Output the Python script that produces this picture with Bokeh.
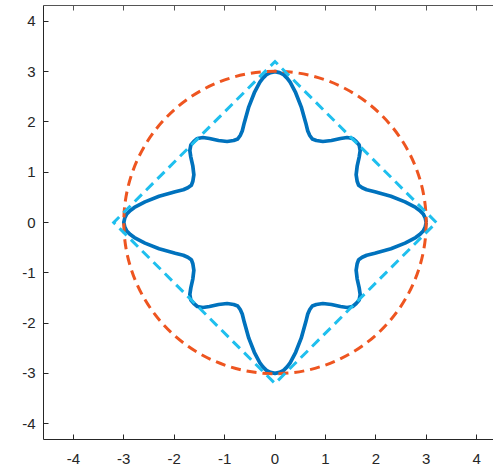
from bokeh.plotting import figure
from bokeh.models import FixedTicker, LinearAxis, Range1d, CustomLabelingPolicy
from bokeh.embed import file_html
from bokeh.resources import INLINE

tick_values = [-4, -3, -2, -1, 0, 1, 2, 3, 4]
tick_labels = ["-4", "-3", "-2", "-1", "0", "1", "2", "3", "4"]

circle_radius = 3.0

diamond_x = [3.2, 0.0, -3.2, 0.0, 3.2]
diamond_y = [0.0, 3.2, 0.0, -3.2, 0.0]

star_x = [
    3.00, 2.98, 2.94, 2.87, 2.79, 2.58, 2.30, 1.98, 1.82, 1.73, 1.66, 1.63, 1.61, 1.63, 1.67, 1.69, 1.67, 1.61,
    1.54, 1.43, 1.30, 1.12, 0.95, 0.82, 0.74, 0.69, 0.65, 0.61, 0.52, 0.41, 0.30, 0.24, 0.17, 0.09, 0.00,
    -0.09, -0.17, -0.24, -0.30, -0.41, -0.52, -0.61, -0.65, -0.69, -0.74, -0.82, -0.95, -1.12, -1.30, -1.43, -1.54,
    -1.61, -1.67, -1.69, -1.67, -1.63, -1.61, -1.63, -1.66, -1.73, -1.82, -1.98, -2.30, -2.58, -2.79, -2.87, -2.94, -2.98, -3.00,
    -2.98, -2.94, -2.87, -2.79, -2.58, -2.30, -1.98, -1.82, -1.73, -1.66, -1.63, -1.61, -1.63, -1.67, -1.69, -1.67, -1.61,
    -1.54, -1.43, -1.30, -1.12, -0.95, -0.82, -0.74, -0.69, -0.65, -0.61, -0.52, -0.41, -0.30, -0.24, -0.17, -0.09, 0.00,
    0.09, 0.17, 0.24, 0.30, 0.41, 0.52, 0.61, 0.65, 0.69, 0.74, 0.82, 0.95, 1.12, 1.30, 1.43, 1.54,
    1.61, 1.67, 1.69, 1.67, 1.63, 1.61, 1.63, 1.66, 1.73, 1.82, 1.98, 2.30, 2.58, 2.79, 2.87, 2.94, 2.98, 3.00,
]
star_y = [
    0.00, 0.09, 0.17, 0.24, 0.30, 0.41, 0.52, 0.61, 0.65, 0.69, 0.74, 0.82, 0.95, 1.12, 1.30, 1.43, 1.54, 1.61,
    1.67, 1.69, 1.67, 1.63, 1.61, 1.63, 1.66, 1.73, 1.82, 1.98, 2.30, 2.58, 2.79, 2.87, 2.94, 2.98, 3.00,
    2.98, 2.94, 2.87, 2.79, 2.58, 2.30, 1.98, 1.82, 1.73, 1.66, 1.63, 1.61, 1.63, 1.67, 1.69, 1.67,
    1.61, 1.54, 1.43, 1.30, 1.12, 0.95, 0.82, 0.74, 0.69, 0.65, 0.61, 0.52, 0.41, 0.30, 0.24, 0.17, 0.09, 0.00,
    -0.09, -0.17, -0.24, -0.30, -0.41, -0.52, -0.61, -0.65, -0.69, -0.74, -0.82, -0.95, -1.12, -1.30, -1.43, -1.54, -1.61,
    -1.67, -1.69, -1.67, -1.63, -1.61, -1.63, -1.66, -1.73, -1.82, -1.98, -2.30, -2.58, -2.79, -2.87, -2.94, -2.98, -3.00,
    -2.98, -2.94, -2.87, -2.79, -2.58, -2.30, -1.98, -1.82, -1.73, -1.66, -1.63, -1.61, -1.63, -1.67, -1.69, -1.67,
    -1.61, -1.54, -1.43, -1.30, -1.12, -0.95, -0.82, -0.74, -0.69, -0.65, -0.61, -0.52, -0.41, -0.30, -0.24, -0.17, -0.09, 0.00,
]

AX = "#262626"
FONT = "Liberation Sans"

p = figure(
    width=493, height=471,
    x_range=Range1d(-4.593, 4.335), y_range=Range1d(-4.314, 4.314),
    output_backend="svg", toolbar_location=None,
    x_axis_location=None, y_axis_location=None,
    min_border_left=43, min_border_right=0, min_border_top=5, min_border_bottom=32,
    background_fill_color="white", border_fill_color="white",
    outline_line_color=None,
)
p.xgrid.visible = False
p.ygrid.visible = False

overrides = {v: s for v, s in zip(tick_values, tick_labels)}

def style_axis(ax, labels=True):
    ax.ticker = FixedTicker(ticks=tick_values)
    ax.axis_line_color = AX
    ax.axis_line_width = 1
    ax.major_tick_line_color = AX
    ax.major_tick_in = 5
    ax.major_tick_out = 0
    ax.minor_tick_line_color = None
    if labels:
        ax.major_label_overrides = overrides
        ax.major_label_text_font = FONT
        ax.major_label_text_font_size = "15px"
        ax.major_label_text_color = AX
    else:
        ax.major_label_standoff = 0
        ax.major_label_text_font_size = "0px"
        ax.major_label_policy = CustomLabelingPolicy(code="""
            const ks = [];
            for (const i of indices) ks.push(i);
            for (const i of ks) indices.unset(i);
            return indices;
        """)

left = LinearAxis()
style_axis(left)
left.major_label_standoff = 8
p.add_layout(left, "left")

bottom = LinearAxis()
style_axis(bottom)
bottom.major_label_standoff = 14
p.add_layout(bottom, "below")

top = LinearAxis()
style_axis(top, labels=False)
top.axis_line_color = "#555555"
top.major_tick_line_color = "#555555"
p.add_layout(top, "above")

p.line(star_x, star_y, line_color="#0072BD", line_width=3.7, line_join="round")
p.circle(x=[0], y=[0], radius=circle_radius, fill_color=None,
         line_color="#EE5520", line_width=3, line_dash="10 6")
p.line(diamond_x, diamond_y, line_color="#1FBFEE", line_width=3,
       line_dash="10 6", line_join="miter")

open("out.html", "w").write(file_html(p, INLINE))
